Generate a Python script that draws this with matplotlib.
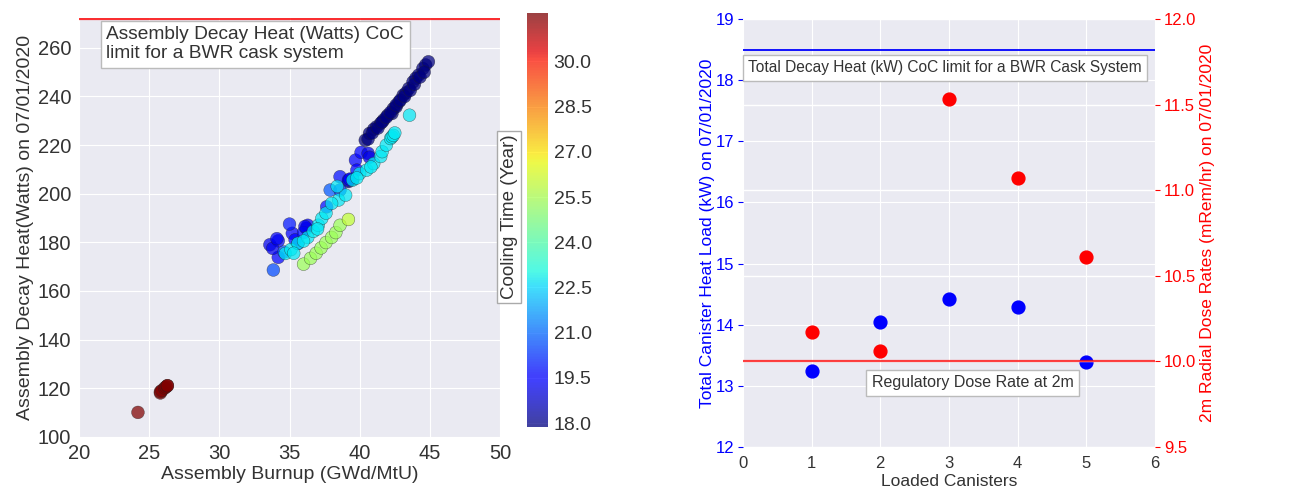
import matplotlib
matplotlib.use("Agg")
import matplotlib.pyplot as plt
import seaborn as sns
import numpy as np

sns.set_style("darkgrid")
plt.rcParams['font.family'] = ['Liberation Sans', 'DejaVu Sans']

# ---- Left panel data: assembly burnup vs decay heat, coloured by cooling time ----
burnup = [
    # dark red (old assemblies)
    24.2, 25.8, 25.8, 25.9, 26.1, 26.2, 26.3, 26.3,
    # navy (shortest cooling)
    39.2, 39.5, 40.4, 40.7, 41.0, 41.2, 41.5, 41.7, 42.0, 42.3, 42.4, 42.6,
    42.8, 43.1, 43.3, 43.5, 43.8, 44.0, 44.2, 44.5, 44.7, 44.9,
    40.6, 40.9, 41.3, 41.6, 41.9, 42.2, 42.6, 42.9, 43.2, 43.6, 43.9, 44.3, 44.6,
    # blue
    33.6, 34.2, 34.2, 35.2, 35.4, 36.2, 36.3, 37.65, 38.6, 39.2, 39.7, 39.8,
    40.1, 40.6, 35.6, 36.0, 33.8, 34.1, 36.1, 39.3, 40.7,
    # medium / light blue
    33.85, 35.0, 37.9, 38.6, 34.6,
    # cyan
    34.7, 35.1, 35.6, 36.3, 36.7, 37.05, 37.3, 37.6, 38.5, 39.0, 39.5, 40.0,
    40.5, 41.0, 41.5, 41.6, 41.9, 42.2, 42.3, 42.4, 43.55, 38.0, 38.4,
    35.3, 36.0, 37.0, 39.8, 40.8, 42.5,
    # green
    36.0, 36.5, 36.9, 37.25, 37.6, 38.0, 38.3, 38.6, 39.2,
]
decay_heat = [
    110.0, 118.0, 118.5, 119.0, 120.0, 120.5, 121.0, 121.0,
    205.0, 206.0, 222.0, 224.8, 226.5, 227.5, 229.0, 230.3, 232.3, 233.0, 235.0, 235.8,
    237.8, 240.5, 241.5, 243.3, 246.0, 247.5, 248.8, 251.5, 253.0, 254.3,
    222.5, 225.0, 227.0, 229.5, 231.5, 233.5, 236.5, 238.5, 240.0, 242.5, 245.0, 248.0, 250.0,
    179.0, 180.6, 173.8, 183.7, 181.0, 185.7, 187.0, 194.6, 207.0, 205.6, 213.8, 209.7,
    217.0, 216.6, 179.5, 184.0, 177.5, 181.5, 186.5, 206.0, 215.0,
    168.6, 187.5, 201.5, 201.5, 176.0,
    175.4, 177.0, 179.6, 182.0, 184.5, 187.0, 189.8, 192.0, 197.4, 199.4, 205.6, 208.3,
    209.7, 212.4, 215.3, 217.3, 220.0, 222.7, 223.4, 224.0, 232.3, 196.0, 203.0,
    175.5, 180.5, 185.5, 206.5, 211.0, 225.0,
    171.0, 173.4, 175.5, 177.7, 179.9, 182.0, 184.0, 187.0, 189.4,
]
cooling_time = (
    [31.6] * 8
    + [17.9] * 35
    + [19.2, 19.3, 19.6, 19.4, 19.6, 19.1, 19.3, 19.8, 19.8, 19.3, 19.6, 19.4,
       19.6, 19.1, 20.2, 19.8, 19.2, 19.3, 19.2, 19.4, 19.1]
    + [20.6, 19.9, 20.8, 20.2, 20.6]
    + [22.7] * 29
    + [25.3] * 8 + [25.9]
)

# ---- Right panel data ----
canisters = [1, 2, 3, 4, 5]
heat_load_kw = [13.24, 14.04, 14.42, 14.29, 13.39]
dose_rate = [10.17, 10.06, 11.53, 11.07, 10.61]
heat_limit_kw = 18.5
dose_limit = 10.0
assembly_heat_limit = 272

fig = plt.figure(figsize=(12.91, 4.88), dpi=100)

# Left scatter
ax1 = fig.add_axes([0.0612, 0.1051, 0.3261, 0.858])
sc = ax1.scatter(burnup, decay_heat, c=cooling_time, cmap='jet', s=85,
                 alpha=0.72, edgecolors='#222222', linewidths=0.3,
                 vmin=17.87, vmax=31.6, zorder=3)
ax1.axhline(assembly_heat_limit, color='red', lw=1.6, alpha=0.8, zorder=4)
ax1.set_xlim(20, 50)
ax1.set_ylim(100, 272.3)
ax1.set_xticks([20, 25, 30, 35, 40, 45, 50])
ax1.set_yticks([100, 120, 140, 160, 180, 200, 220, 240, 260])
ax1.tick_params(labelsize=14.5, colors='#333333', pad=2)
ax1.set_xlabel('Assembly Burnup (GWd/MtU)', fontsize=14, color='#333333', labelpad=2)
ax1.set_ylabel('Assembly Decay Heat(Watts) on 07/01/2020', fontsize=14,
               color='#333333', labelpad=3)
ax1.text(0.065, 0.937, 'Assembly Decay Heat (Watts) CoC\nlimit for a BWR cask system',
         transform=ax1.transAxes, ha='left', va='center', fontsize=13.8,
         color='#333333', linespacing=1.15,
         bbox=dict(facecolor='white', edgecolor='#bbbbbb', boxstyle='square,pad=0.3'),
         zorder=5)

cax = fig.add_axes([0.4082, 0.125, 0.0163, 0.848])
cb = fig.colorbar(sc, cax=cax, ticks=[18.0, 19.5, 21.0, 22.5, 24.0, 25.5, 27.0, 28.5, 30.0])
cb.ax.set_yticklabels(['18.0', '19.5', '21.0', '22.5', '24.0', '25.5', '27.0', '28.5', '30.0'])
cb.ax.tick_params(labelsize=14, colors='#333333', length=0, pad=4)
cb.outline.set_visible(False)
fig.text(509 / 1291, 1 - 217 / 488, 'Cooling Time (Year)', rotation=90,
         ha='center', va='center', fontsize=13.5, color='#333333',
         bbox=dict(facecolor='white', edgecolor='#aaaaaa', boxstyle='square,pad=0.2'))

# Right panel
ax = fig.add_axes([0.5755, 0.0840, 0.3191, 0.877])
ax.scatter(canisters, heat_load_kw, color='blue', s=85, zorder=3)
ax.axhline(heat_limit_kw, color='blue', lw=1.3, zorder=2)
ax.set_xlim(0, 6)
ax.set_ylim(12, 19)
ax.set_xticks(range(0, 7))
ax.set_yticks(range(12, 20))
ax.tick_params(axis='y', labelsize=12, colors='blue', pad=3)
ax.tick_params(axis='x', labelsize=12, colors='#333333', pad=3)
ax.set_xlabel('Loaded Canisters', fontsize=12.5, color='#333333', labelpad=2)
ax.set_ylabel('Total Canister Heat Load (kW) on 07/01/2020', fontsize=12.5,
              color='blue', labelpad=0)
ax.text(0.49, 0.886, 'Total Decay Heat (kW) CoC limit for a BWR Cask System',
        transform=ax.transAxes, ha='center', va='center', fontsize=11.2,
        color='#333333',
        bbox=dict(facecolor='white', edgecolor='#bbbbbb', boxstyle='square,pad=0.35'),
        zorder=5)

ax2 = ax.twinx()
ax2.scatter(canisters, dose_rate, color='red', s=85, zorder=3)
ax2.axhline(dose_limit, color='red', lw=1.6, alpha=0.75, zorder=2)
ax2.set_ylim(9.5, 12.0)
ax2.set_yticks([9.5, 10.0, 10.5, 11.0, 11.5, 12.0])
ax2.tick_params(axis='y', labelsize=12, colors='red', pad=3)
ax2.set_ylabel('2m Radial Dose Rates (mRem/hr) on 07/01/2020', fontsize=12.5,
               color='red', labelpad=3)
ax2.grid(True, color='white', lw=1.0)
ax2.text(0.558, 0.150, 'Regulatory Dose Rate at 2m', transform=ax2.transAxes,
         ha='center', va='center', fontsize=11.5, color='#333333',
         bbox=dict(facecolor='white', edgecolor='#bbbbbb', boxstyle='square,pad=0.35'),
         zorder=5)
for a in (ax1, ax, ax2):
    for s in a.spines.values():
        s.set_visible(False)

fig.savefig('out.png', dpi=100)
